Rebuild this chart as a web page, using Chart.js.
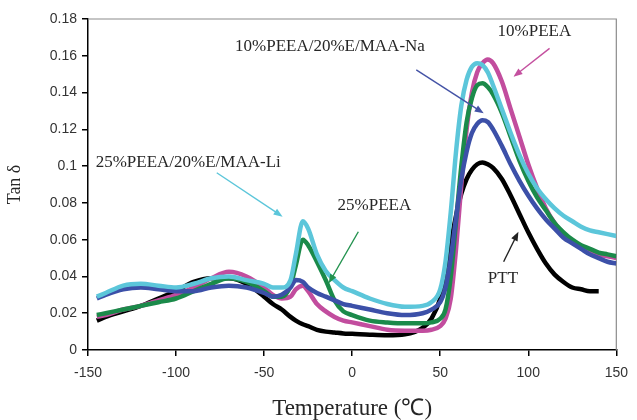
<!DOCTYPE html>
<html>
<head>
<meta charset="utf-8">
<script src="https://cdn.jsdelivr.net/npm/chart.js@4.4.1/dist/chart.umd.min.js"></script>
<style>
html,body{margin:0;padding:0;background:#fff;}
#wrap{width:637px;height:420px;}
</style>
</head>
<body>
<div id="wrap"><canvas id="c" width="637" height="420"></canvas></div>
<script>
// Temperature (°C)
const temps = [-145,-140,-130,-120,-110,-100,-90,-80,-70,-60,-50,-45,-40,-35,-32,-28,-25,-20,-15,-10,-5,0,10,20,30,40,45,50,53,56,59,62,65,68,71,74,77,80,85,90,95,100,105,110,115,120,125,130,135,140,145,150];

const ptt = [0.016,0.018,0.021,0.024,0.028,0.032,0.037,0.039,0.039,0.036,0.029,0.025,0.022,0.018,0.016,0.014,0.013,0.011,0.010,0.0095,0.009,0.0088,0.0083,0.0080,0.0085,0.012,0.017,0.028,0.042,0.058,0.073,0.085,0.093,0.098,0.101,0.102,0.101,0.099,0.093,0.084,0.074,0.064,0.055,0.047,0.041,0.037,0.034,0.033,0.032,0.032,null,null];

const peea10 = [0.018,0.019,0.022,0.024,0.027,0.030,0.034,0.039,0.0425,0.040,0.034,0.030,0.028,0.029,0.033,0.035,0.032,0.025,0.021,0.018,0.016,0.015,0.013,0.011,0.0105,0.0105,0.011,0.013,0.017,0.028,0.055,0.090,0.120,0.140,0.151,0.156,0.158,0.156,0.146,0.131,0.116,0.101,0.088,0.077,0.069,0.063,0.059,0.056,0.054,0.052,0.051,0.050];

const peea25 = [0.019,0.020,0.022,0.024,0.026,0.028,0.032,0.036,0.039,0.037,0.032,0.029,0.029,0.035,0.046,0.060,0.057,0.048,0.038,0.027,0.021,0.019,0.016,0.015,0.0145,0.0145,0.015,0.017,0.022,0.040,0.070,0.100,0.124,0.137,0.144,0.145,0.143,0.139,0.129,0.116,0.103,0.092,0.083,0.076,0.069,0.064,0.060,0.057,0.055,0.053,0.052,0.051];

const naBlend = [0.028,0.030,0.033,0.034,0.033,0.032,0.032,0.034,0.035,0.034,0.031,0.029,0.030,0.034,0.038,0.037,0.034,0.031,0.029,0.027,0.025,0.024,0.022,0.020,0.019,0.020,0.022,0.026,0.034,0.050,0.072,0.093,0.108,0.118,0.123,0.125,0.124,0.120,0.111,0.101,0.092,0.084,0.077,0.071,0.066,0.061,0.058,0.055,0.052,0.050,0.048,0.047];

const liBlend = [0.029,0.031,0.035,0.036,0.035,0.034,0.036,0.039,0.040,0.038,0.036,0.034,0.034,0.038,0.052,0.070,0.066,0.052,0.043,0.038,0.034,0.032,0.028,0.025,0.0235,0.024,0.026,0.033,0.048,0.075,0.108,0.133,0.147,0.154,0.156,0.155,0.151,0.144,0.131,0.118,0.106,0.096,0.088,0.082,0.077,0.073,0.070,0.067,0.065,0.064,0.063,0.062];

const xTicks = {min:-150, max:150, step:50};
const yTicks = {min:0, max:0.18, step:0.02};

// annotation labels (data coordinates)
const notes = [
  {text:'10%PEEA/20%E/MAA-Na', x:-12.6, y:0.1648, color:'#4453a6', from:[36.4,0.1523], to:[74.7,0.1287]},
  {text:'10%PEEA', x:103.5, y:0.173, color:'#c4509f', from:[112.1,0.164], to:[91.6,0.1486]},
  {text:'25%PEEA/20%E/MAA-Li', x:-93.1, y:0.1017, color:'#5cc6da', from:[-76.9,0.0964], to:[-39.5,0.0725]},
  {text:'25%PEEA', x:12.6, y:0.0783, color:'#22924e', from:[3.5,0.0643], to:[-13.3,0.0363]},
  {text:'PTT', x:85.6, y:0.0386, color:'#222222', from:[86,0.048], to:[94.4,0.0643]}
];

function pts(arr){ return temps.map((t,i)=>({x:t, y:arr[i]})); }

const annotPlugin = {
  id:'annot',
  beforeDatasetsDraw(chart){
    const {ctx, chartArea:a} = chart;
    ctx.save();
    ctx.strokeStyle = '#8c8c8c';
    ctx.lineWidth = 1.2;
    ctx.beginPath();
    ctx.moveTo(a.left, a.top); ctx.lineTo(a.right, a.top); ctx.lineTo(a.right, a.bottom);
    ctx.stroke();
    ctx.restore();
  },
  afterDatasetsDraw(chart){
    const {ctx} = chart;
    const xs = chart.scales.x, ys = chart.scales.y;
    ctx.save();
    notes.forEach(n=>{
      ctx.font = '17px "Liberation Serif", "Times New Roman", serif';
      ctx.fillStyle = '#262626';
      ctx.textAlign = 'center';
      ctx.textBaseline = 'middle';
      ctx.fillText(n.text, xs.getPixelForValue(n.x), ys.getPixelForValue(n.y));
      const x1 = xs.getPixelForValue(n.from[0]), y1 = ys.getPixelForValue(n.from[1]);
      const x2 = xs.getPixelForValue(n.to[0]), y2 = ys.getPixelForValue(n.to[1]);
      const ang = Math.atan2(y2-y1, x2-x1);
      const hl = 9, hw = 3.5;
      ctx.strokeStyle = n.color; ctx.fillStyle = n.color; ctx.lineWidth = 1.4;
      ctx.beginPath();
      ctx.moveTo(x1,y1);
      ctx.lineTo(x2 - Math.cos(ang)*hl*0.8, y2 - Math.sin(ang)*hl*0.8);
      ctx.stroke();
      ctx.beginPath();
      ctx.moveTo(x2,y2);
      ctx.lineTo(x2 - Math.cos(ang)*hl - Math.sin(ang)*hw, y2 - Math.sin(ang)*hl + Math.cos(ang)*hw);
      ctx.lineTo(x2 - Math.cos(ang)*hl + Math.sin(ang)*hw, y2 - Math.sin(ang)*hl - Math.cos(ang)*hw);
      ctx.closePath();
      ctx.fill();
    });
    ctx.restore();
  }
};

const lineStyle = {borderWidth:4.5, pointRadius:0, fill:false, cubicInterpolationMode:'monotone', spanGaps:false};

new Chart(document.getElementById('c'), {
  type:'line',
  data:{
    datasets:[
      Object.assign({label:'25%PEEA/20%E/MAA-Li', data:pts(liBlend), borderColor:'#5cc6da'}, lineStyle),
      Object.assign({label:'10%PEEA/20%E/MAA-Na', data:pts(naBlend), borderColor:'#3c50a8'}, lineStyle),
      Object.assign({label:'25%PEEA', data:pts(peea25), borderColor:'#1b8a4a'}, lineStyle),
      Object.assign({label:'10%PEEA', data:pts(peea10), borderColor:'#c24d9e'}, lineStyle),
      Object.assign({label:'PTT', data:pts(ptt), borderColor:'#000000'}, lineStyle)
    ]
  },
  options:{
    responsive:false,
    animation:false,
    layout:{padding:{top:19, right:14, left:0, bottom:0}},
    plugins:{legend:{display:false}, tooltip:{enabled:false}},
    scales:{
      x:{
        type:'linear', min:xTicks.min, max:xTicks.max,
        afterFit(s){ s.height = 70; },
        ticks:{stepSize:xTicks.step, color:'#333', padding:9, font:{family:'"Liberation Sans", Arial, sans-serif', size:14}},
        grid:{display:true, drawOnChartArea:false, drawTicks:true, tickLength:6, color:'#000', lineWidth:1.5},
        border:{display:true, color:'#000', width:1.5},
        title:{display:true, text:'Temperature (℃)', color:'#262626', padding:{top:0,bottom:0}, font:{family:'"Liberation Serif", "Times New Roman", serif', size:23, lineHeight:1}}
      },
      y:{
        type:'linear', min:yTicks.min, max:yTicks.max,
        afterFit(s){ s.width = 88; },
        ticks:{stepSize:yTicks.step, color:'#333', padding:5, font:{family:'"Liberation Sans", Arial, sans-serif', size:14},
          callback:(v)=>String(+v.toFixed(2))},
        grid:{display:true, drawOnChartArea:false, drawTicks:true, tickLength:6, color:'#000', lineWidth:1.5},
        border:{display:true, color:'#000', width:1.5},
        title:{display:true, text:'Tan δ', color:'#262626', padding:{top:6,bottom:0}, font:{family:'"Liberation Serif", "Times New Roman", serif', size:18, lineHeight:1}}
      }
    }
  },
  plugins:[annotPlugin]
});
</script>
</body>
</html>
